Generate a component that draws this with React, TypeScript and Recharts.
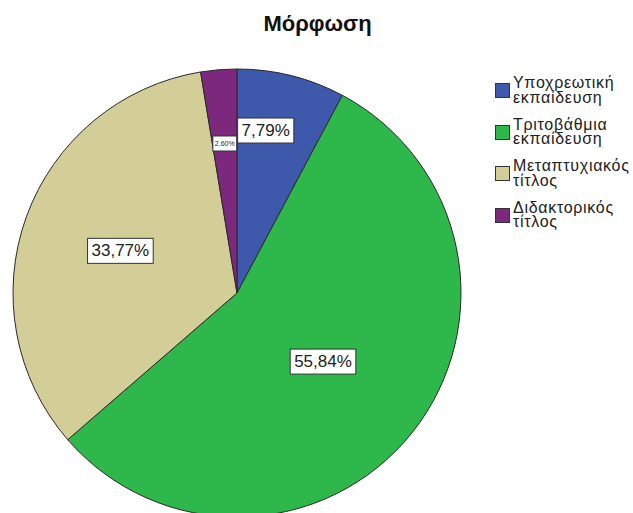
import { PieChart, Pie, Cell, Legend } from "recharts"

const categories = [
  "Υποχρεωτική εκπαίδευση",
  "Τριτοβάθμια εκπαίδευση",
  "Μεταπτυχιακός τίτλος",
  "Διδακτορικός τίτλος",
]
const counts = [6, 43, 26, 2]
const colors = ["#3e58ac", "#2eb84b", "#d3ce97", "#7c287d"]

// label placement tweaks (radius from centre, angle shift in degrees)
const labelRadius = [165, 110, 124, 150]
const labelShift = [4, 0, 0, 0]

const data = categories.map((name, i) => ({ name, value: counts[i] }))

const FONT = "Arial, 'Liberation Sans', sans-serif"
const RADIAN = Math.PI / 180

function textWidth(s: string, fs: number) {
  let w = 0
  for (const ch of s) {
    if (ch === ",") w += 0.278
    else if (ch === "%") w += 0.889
    else w += 0.556
  }
  return w * fs
}

function renderLabel(props: any) {
  const { cx, cy, midAngle, percent, index } = props
  const r = labelRadius[index]
  const a = (midAngle + labelShift[index]) * RADIAN
  const x = cx + r * Math.cos(-a)
  const y = cy + r * Math.sin(-a)
  const text = (percent * 100).toFixed(2).replace(".", ",") + "%"
  const small = percent < 0.05
  const fs = small ? 7 : 17
  const w = textWidth(text, fs) + (small ? 4 : 8)
  const h = small ? 15 : 25
  return (
    <g>
      <rect x={x - w / 2} y={y - h / 2} width={w} height={h} fill="#fff" stroke="#333" strokeWidth={1} />
      <text x={x} y={y} textAnchor="middle" dominantBaseline="central" fontSize={fs} fontFamily={FONT} fill="#222">
        {text}
      </text>
    </g>
  )
}

function renderLegend() {
  return (
    <div style={{ fontFamily: FONT, fontSize: 16, lineHeight: "14.5px", letterSpacing: 0.7, color: "#222" }}>
      {categories.map((name, i) => (
        <div key={name} style={{ display: "flex", height: 41.5 }}>
          <div
            style={{
              width: 15,
              height: 15,
              marginTop: 7,
              background: colors[i],
              border: "1px solid #333",
              boxSizing: "border-box",
              flex: "none",
            }}
          />
          <div style={{ marginLeft: 3 }}>
            {name.split(" ").map((line) => (
              <div key={line}>{line}</div>
            ))}
          </div>
        </div>
      ))}
    </div>
  )
}

export default function App() {
  return (
    <div style={{ position: "absolute", left: 0, top: 0, width: 633, height: 513, background: "#fff", overflow: "hidden" }}>
      <div
        style={{
          position: "absolute",
          top: 11,
          left: 260,
          width: 115,
          textAlign: "center",
          fontFamily: FONT,
          fontWeight: "bold",
          fontSize: 22,
          color: "#111",
        }}
      >
        Μόρφωση
      </div>
      <PieChart width={633} height={513}>
        <Pie
          data={data}
          dataKey="value"
          nameKey="name"
          cx={232}
          cy={288}
          outerRadius={224}
          startAngle={90}
          endAngle={-270}
          stroke="#2a2a2a"
          strokeWidth={1}
          label={renderLabel}
          labelLine={false}
          isAnimationActive={false}
        >
          {data.map((d, i) => (
            <Cell key={d.name} fill={colors[i]} />
          ))}
        </Pie>
        <Legend
          content={renderLegend}
          layout="vertical"
          verticalAlign="top"
          align="right"
          wrapperStyle={{ top: 76, left: 495, width: 138 }}
        />
      </PieChart>
    </div>
  )
}
